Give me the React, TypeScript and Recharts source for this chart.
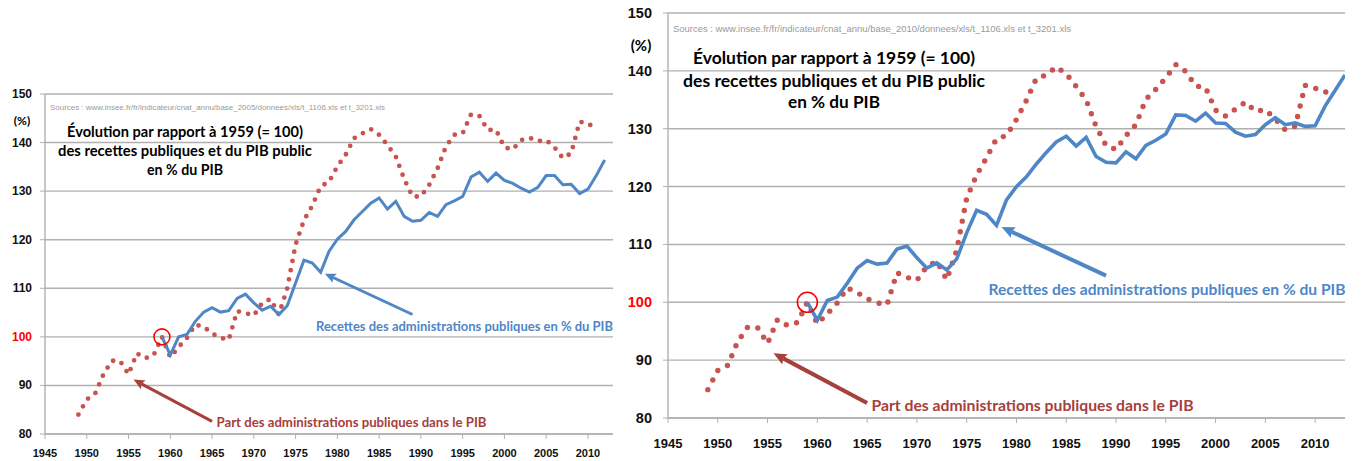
import { LineChart, Line, XAxis, YAxis, CartesianGrid, ReferenceDot, ReferenceLine } from 'recharts';

const years = [
  1949, 1950, 1951, 1952, 1953, 1954, 1955, 1956, 1957, 1958,
  1959, 1960, 1961, 1962, 1963, 1964, 1965, 1966, 1967, 1968,
  1969, 1970, 1971, 1972, 1973, 1974, 1975, 1976, 1977, 1978,
  1979, 1980, 1981, 1982, 1983, 1984, 1985, 1986, 1987, 1988,
  1989, 1990, 1991, 1992, 1993, 1994, 1995, 1996, 1997, 1998,
  1999, 2000, 2001, 2002, 2003, 2004, 2005, 2006, 2007, 2008,
  2009, 2010, 2011, 2012, 2013,
];

// base 2005 (left): red 1949-2011, blue 1959-2012
const partPibLeft = [
  84.0, 87.1, 88.3, 92.3, 95.1, 95.0, 92.3, 96.6, 95.6, 96.2,
  100, 95.8, 97.9, 99.8, 102.5, 102.1, 100.7, 99.8, 99.4, 105.3,
  104.9, 104.4, 107.0, 107.8, 104.6, 110, 119, 124, 127, 131,
  131.9, 135.1, 137.5, 140.9, 141.9, 142.8, 141.6, 139.5, 137.1, 132.5,
  128.9, 128.9, 131.3, 134.7, 139.2, 141.6, 141.9, 145.8, 145.5, 142.6,
  142.6, 139, 138.6, 140.5, 141, 140.3, 140.5, 139, 136.8, 137.8,
  144.3, 144, 142.7,
];
const recettesLeft = [
  100, 96.3, 100, 100.5, 103.2, 105.1, 106, 105.1, 105.4, 107.9,
  108.8, 107, 105.5, 106.3, 104.6, 106.4, 111.1, 115.8, 115.2, 113.3,
  117.6, 120.1, 121.7, 124.1, 125.8, 127.5, 128.6, 126.3, 127.9, 124.8,
  123.8, 124, 125.6, 124.8, 127.2, 128, 128.9, 132.9, 133.9, 132,
  133.7, 132.2, 131.6, 130.6, 129.8, 130.8, 133.2, 133.2, 131.3, 131.4,
  129.5, 130.4, 133.2, 136.4,
];

// base 2010 (right): red 1949-2012, blue 1959-2013
const partPibRight = [
  84.9, 88.2, 89.1, 93.2, 95.7, 95.6, 92.9, 97.0, 96.0, 96.5,
  100, 96.3, 98.0, 99.9, 102.5, 101.7, 100.6, 99.9, 99.6, 105.1,
  104.3, 103.8, 106.2, 107.1, 103.9, 109, 118, 122, 125, 128.3,
  128.8, 131.6, 134.9, 138.7, 139.3, 140.7, 139.5, 137.3, 135, 130.4,
  127.1, 126.4, 128.8, 130.7, 135.1, 136.8, 138.8, 141.1, 139.9, 137.4,
  137.1, 133.2, 132.2, 133.4, 134.6, 133, 133.3, 131.7, 129.8, 130.4,
  137.5, 137, 136.3, 137,
];
const recettesRight = [
  100, 96.9, 100.3, 100.9, 103.3, 105.9, 107.2, 106.6, 106.8, 109.2,
  109.7, 107.7, 105.9, 106.8, 105.6, 107.5, 112, 115.9, 115.2, 113.3,
  117.7, 120, 121.7, 123.9, 125.9, 127.7, 128.7, 127, 128.5, 125.2,
  124.2, 124.1, 126, 124.8, 127.1, 128, 129.1, 132.4, 132.3, 131.3,
  132.7, 131, 130.9, 129.4, 128.7, 129, 130.7, 131.9, 130.7, 131,
  130.4, 130.5, 133.9, 136.6, 139.3,
];

const xTicks = [1945, 1950, 1955, 1960, 1965, 1970, 1975, 1980, 1985, 1990, 1995, 2000, 2005, 2010];
const yTicks = [80, 90, 100, 110, 120, 130, 140, 150];

const titleLines = ['Évolution par rapport à 1959 (= 100)', 'des recettes publiques et du PIB public', 'en % du PIB'];
const redLabel = 'Part des administrations publiques dans le PIB';
const blueLabel = 'Recettes des administrations publiques en % du PIB';
const sourceLeft = 'Sources : www.insee.fr/fr/indicateur/cnat_annu/base_2005/donnees/xls/t_1106.xls et t_3201.xls';
const sourceRight = 'Sources : www.insee.fr/fr/indicateur/cnat_annu/base_2010/donnees/xls/t_1106.xls et t_3201.xls';

const FONT = 'Lato, "Open Sans", sans-serif';
const TICK_FONT = '"Liberation Sans", Arial, sans-serif';
const SRC_FONT = '"Liberation Sans", Arial, sans-serif';
const GRID = '#b0b0b0';
const RED_DOTS = '#c9534f';
const RED_DARK = '#a5403c';
const BLUE = '#4f86c6';

function buildData(red: number[], blue: number[]) {
  return years.map((year, i) => ({
    year,
    red: red[i] ?? null,
    blue: i >= 10 ? blue[i - 10] ?? null : null,
  }));
}

const arrow = (color: string, width: number, head: number) => (props: any) => {
  const { x1, y1, x2, y2 } = props;
  const dx = x2 - x1;
  const dy = y2 - y1;
  const len = Math.hypot(dx, dy) || 1;
  const ux = dx / len;
  const uy = dy / len;
  const bx = x2 - ux * head;
  const by = y2 - uy * head;
  const px = -uy * head * 0.45;
  const py = ux * head * 0.45;
  return (
    <g>
      <line x1={x1} y1={y1} x2={bx + ux * 2} y2={by + uy * 2} stroke={color} strokeWidth={width} />
      <polygon points={`${x2},${y2} ${bx + px},${by + py} ${bx + ux * 2},${by + uy * 2} ${bx - px},${by - py}`} fill={color} />
    </g>
  );
};

interface PanelProps {
  red: number[];
  blue: number[];
  width: number;
  height: number;
  top: number;
  right: number;
  yWidth: number;
  xHeight: number;
  yFont: number;
  xFont: number;
  yMargin: number;
  xDy: number;
  dotWidth: number;
  dotGap: number;
  lineWidth: number;
  circleR: number;
  arrowWidth: number;
  arrowHead: number;
}

function Panel(p: PanelProps) {
  const data = buildData(p.red, p.blue);
  return (
    <LineChart width={p.width} height={p.height} data={data} margin={{ top: p.top, right: p.right, left: 0, bottom: 0 }}>
      <CartesianGrid vertical={false} stroke={GRID} strokeWidth={1.4} />
      <XAxis
        type="number"
        dataKey="year"
        domain={[1945, 2013]}
        ticks={xTicks}
        interval={0}
        height={p.xHeight}
        allowDataOverflow
        axisLine={{ stroke: GRID, strokeWidth: 1.4 }}
        tickLine={{ stroke: GRID }}
        tickSize={5}
        tickMargin={0}
        tick={(t: any) => (
          <text x={t.x} y={t.y} dy={p.xDy} textAnchor="middle" dominantBaseline="central" fontFamily={TICK_FONT} fontWeight={700} fontSize={p.xFont} fill="#111">
            {t.payload.value}
          </text>
        )}
      />
      <YAxis
        type="number"
        domain={[80, 150]}
        ticks={yTicks}
        interval={0}
        width={p.yWidth}
        allowDataOverflow
        axisLine={{ stroke: GRID, strokeWidth: 1.4 }}
        tickLine={{ stroke: GRID }}
        tickSize={5}
        tickMargin={p.yMargin}
        tick={(t: any) => (
          <text x={t.x} y={t.y} textAnchor="end" dominantBaseline="central" fontFamily={TICK_FONT} fontWeight={700} fontSize={p.yFont} fill={t.payload.value === 100 ? '#ff0000' : '#111'}>
            {t.payload.value}
          </text>
        )}
      />
      <Line type="linear" dataKey="red" stroke={RED_DOTS} strokeWidth={p.dotWidth} strokeDasharray={`0 ${p.dotGap}`} strokeLinecap="round" dot={false} activeDot={false} isAnimationActive={false} />
      <Line type="linear" dataKey="blue" stroke={BLUE} strokeWidth={p.lineWidth} dot={false} activeDot={false} isAnimationActive={false} />
      <ReferenceDot x={1959} y={100} r={p.circleR} fill="none" stroke="#ff0000" strokeWidth={1.6} />
      <ReferenceLine segment={[{ x: 1965, y: 82.6 }, { x: 1955.6, y: 91.2 }]} shape={arrow(RED_DARK, p.arrowWidth, p.arrowHead)} />
      <ReferenceLine segment={[{ x: 1989, y: 104.6 }, { x: 1978.5, y: 113 }]} shape={arrow(BLUE, p.arrowWidth, p.arrowHead)} />
    </LineChart>
  );
}

function Label({ x, y, text, size, len, color = '#000', anchor = 'start', font = FONT, weight = 700 }: any) {
  return (
    <text x={x} y={y} textAnchor={anchor} dominantBaseline="central" fontFamily={font} fontWeight={weight} fontSize={size} fill={color} textLength={len} lengthAdjust="spacingAndGlyphs">
      {text}
    </text>
  );
}

export default function App() {
  return (
    <div style={{ position: 'absolute', left: 0, top: 0, width: 1362, height: 461, background: '#fff', overflow: 'hidden' }}>
      <div style={{ position: 'absolute', left: 0, top: 0 }}>
        <Panel red={partPibLeft} blue={recettesLeft} width={620} height={461} top={94} right={7} yWidth={45} xHeight={27}
          yFont={12} xFont={11} yMargin={8} xDy={14} dotWidth={4.8} dotGap={9.4} lineWidth={3} circleR={8} arrowWidth={3} arrowHead={11} />
      </div>
      <div style={{ position: 'absolute', left: 620, top: 0 }}>
        <Panel red={partPibRight} blue={recettesRight} width={742} height={461} top={13} right={17} yWidth={48} xHeight={43}
          yFont={14.5} xFont={13} yMargin={11} xDy={20} dotWidth={5.4} dotGap={10.8} lineWidth={3.6} circleR={10} arrowWidth={4} arrowHead={13} />
      </div>
      <svg width={1362} height={461} style={{ position: 'absolute', left: 0, top: 0, pointerEvents: 'none' }}>
        {/* left panel texts */}
        <Label x={22} y={120} text="(%)" size={12} anchor="middle" />
        <Label x={50} y={107} text={sourceLeft} size={8} len={335} color="#9a9a9a" font={SRC_FONT} weight={400} />
        <Label x={185} y={131.5} text={titleLines[0]} size={14.5} len={236} anchor="middle" />
        <Label x={185} y={150.5} text={titleLines[1]} size={14.5} len={254} anchor="middle" />
        <Label x={185} y={169} text={titleLines[2]} size={14.5} len={76} anchor="middle" />
        <Label x={216.5} y={422} text={redLabel} size={12.5} len={270} color={RED_DARK} />
        <Label x={316} y={326} text={blueLabel} size={12.5} len={297} color={BLUE} />
        {/* right panel texts */}
        <Label x={641} y={45} text="(%)" size={15} anchor="middle" />
        <Label x={673} y={28.5} text={sourceRight} size={9.5} len={398} color="#9a9a9a" font={SRC_FONT} weight={400} />
        <Label x={834} y={57.5} text={titleLines[0]} size={17} len={282} anchor="middle" />
        <Label x={834} y={80.5} text={titleLines[1]} size={17} len={302} anchor="middle" />
        <Label x={834} y={101.5} text={titleLines[2]} size={17} len={92} anchor="middle" />
        <Label x={871.5} y={405} text={redLabel} size={15} len={322} color={RED_DARK} />
        <Label x={988.5} y={288.5} text={blueLabel} size={15} len={357} color={BLUE} />
      </svg>
    </div>
  );
}
